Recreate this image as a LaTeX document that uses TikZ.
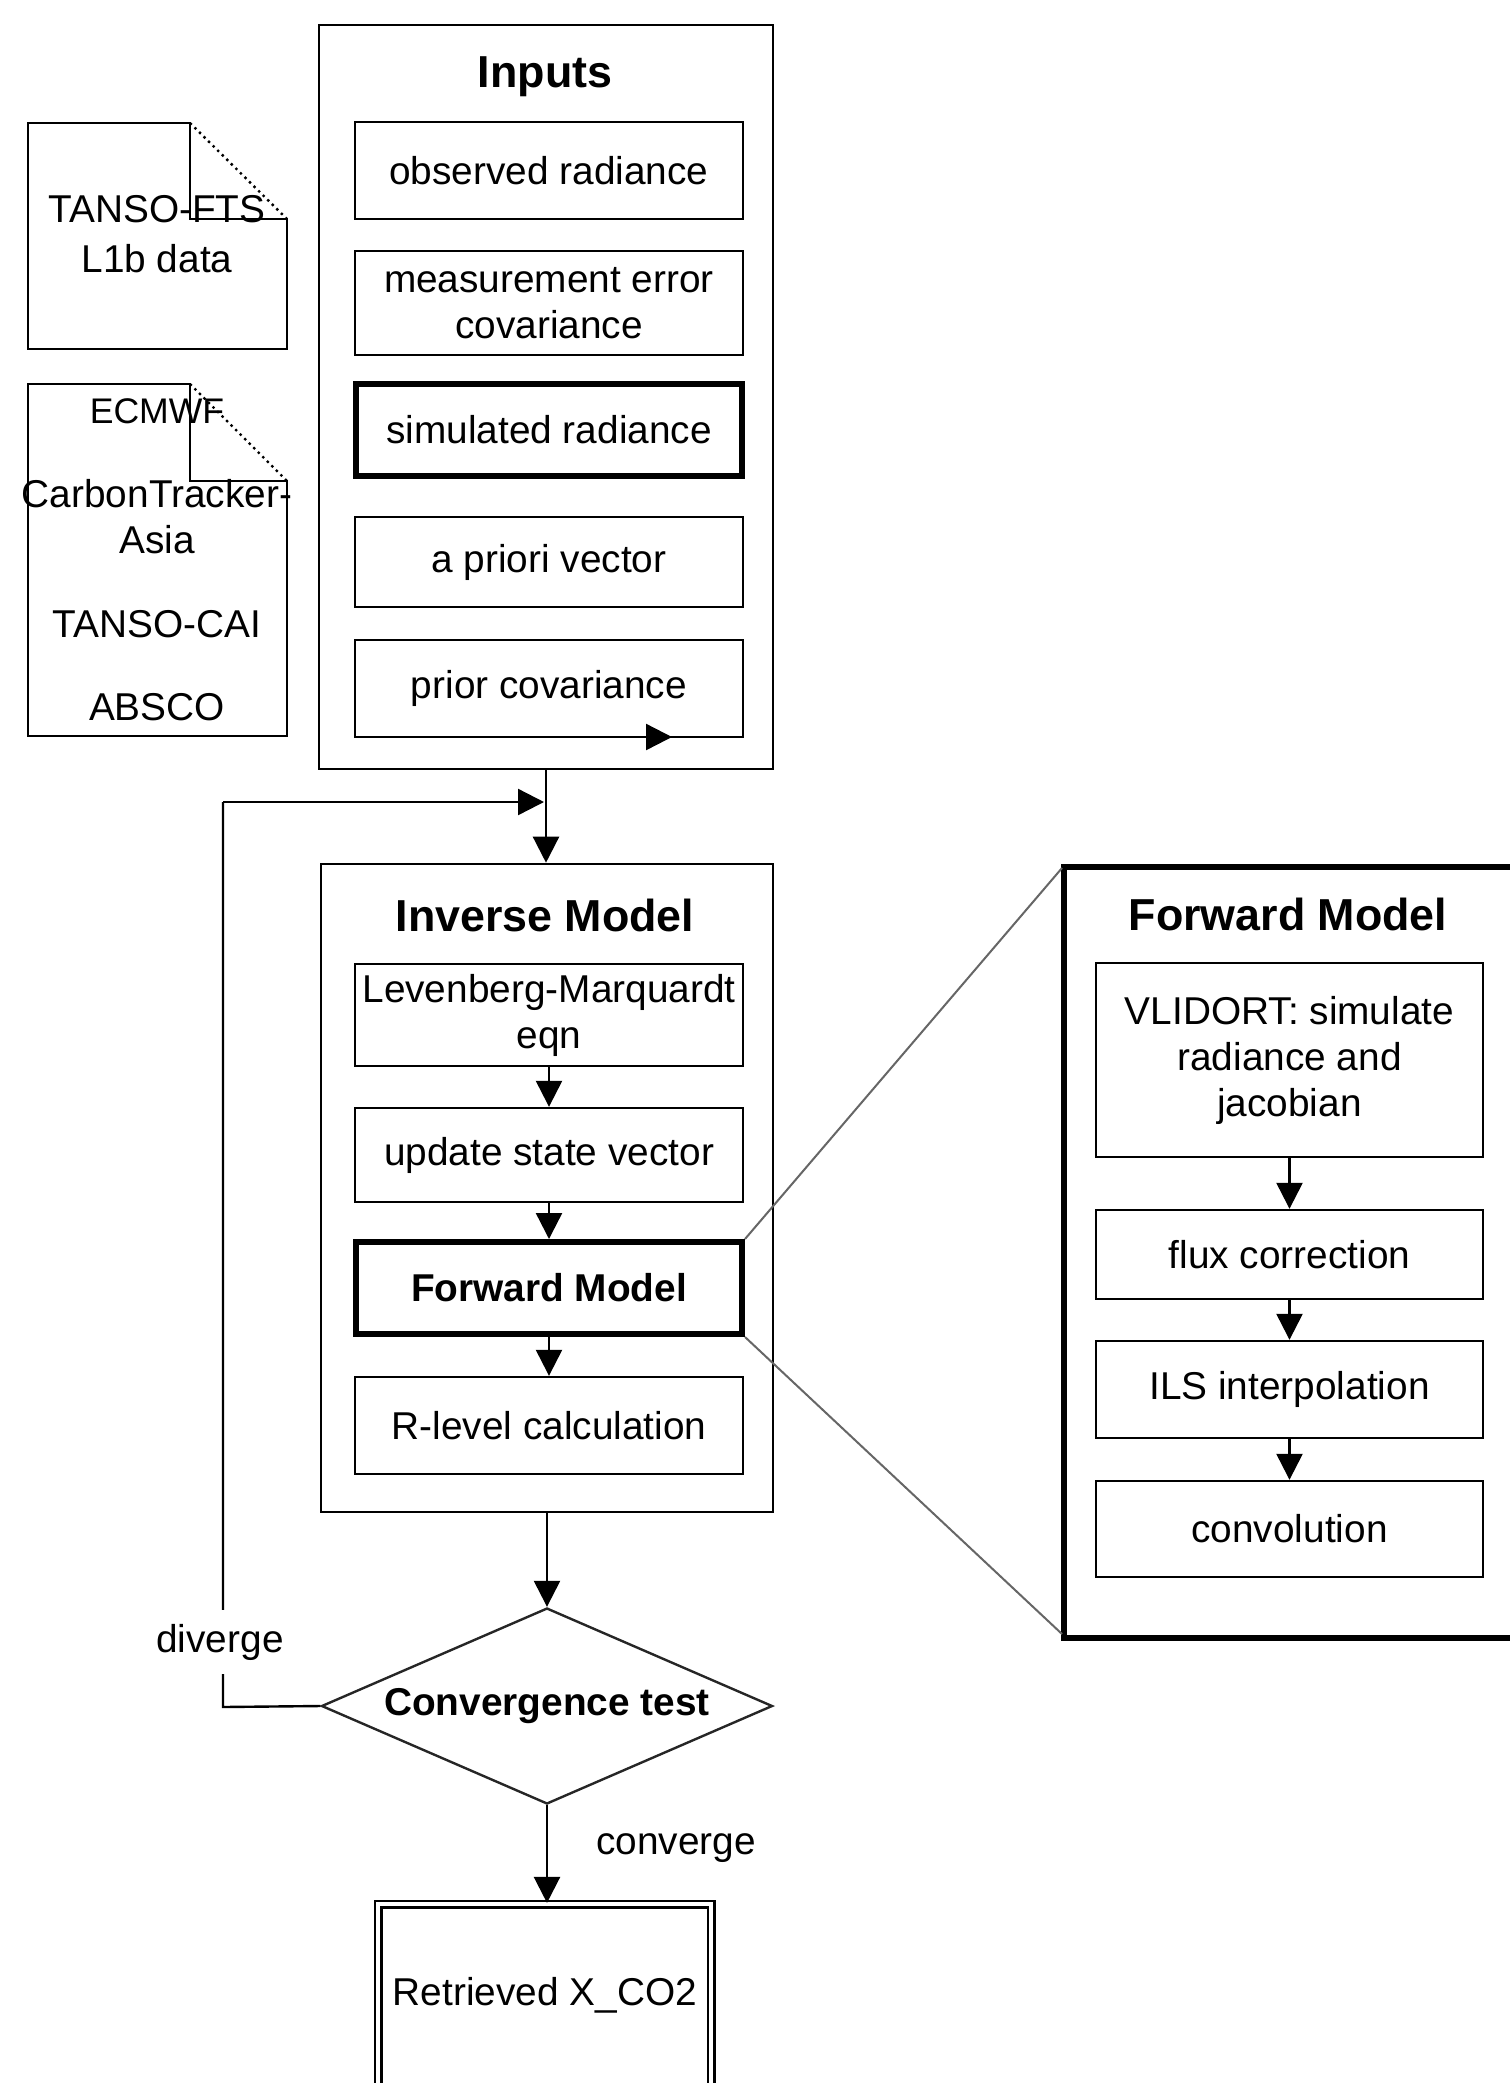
\documentclass[tikz,border=0pt]{standalone}
\usepackage{fontspec}
\setmainfont{Liberation Sans}
\usetikzlibrary{arrows.meta,fit,shapes.geometric}
\newcommand\nfs{\fontsize{19.4}{23}\selectfont}
\newcommand\sfs{\fontsize{17.8}{21}\selectfont}
\newcommand\tfs{\fontsize{22.4}{26}\selectfont\bfseries}
\tikzset{
  every node/.style={font=\nfs},
  box/.style={draw, line width=1.2pt, inner sep=0pt, align=center, minimum width=194pt},
  thickbox/.style={box, line width=3pt, minimum width=193pt},
  outerbox/.style={draw, line width=1.3pt, inner sep=0pt},
  fwdbox/.style={draw, line width=2.6pt, inner sep=0pt},
  ttl/.style={font=\tfs},
  arr/.style={-{Triangle[length=13pt,width=13pt]}, line width=1.2pt},
  plain/.style={line width=1.2pt},
  zoomline/.style={line width=1pt, draw=black!60},
  docline/.style={line width=1.2pt},
}
\begin{document}
\begin{tikzpicture}[x=0.5pt,y=-0.5pt]
\useasboundingbox (0,0) rectangle (1510,2083);

% ---------- documents ----------
\draw[docline] (190,123) -- (28,123) -- (28,349) -- (287,349) -- (287,219) -- (190,219) -- cycle;
\draw[docline, dotted] (190,123) -- (287,219);
\node[align=center] (doc1) at (157,234) {TANSO-FTS\\[2pt]L1b data};

\draw[docline] (190,384) -- (28,384) -- (28,736) -- (287,736) -- (287,481) -- (190,481) -- cycle;
\draw[docline, dotted] (190,384) -- (287,481);
\node[font=\sfs] (ecmwf) at (157,411) {ECMWF};
\node[align=center] (ctasia) at (157,517) {CarbonTracker-\\Asia};
\node (cai) at (157,624) {TANSO-CAI};
\node (absco) at (157,707) {ABSCO};

% ---------- Inputs ----------
\node[outerbox, fit={(319,25)(773,769)}] (inputs) {};
\node[ttl] (inputsT) at (545,77) {Inputs};
\node[box, minimum height=48.5pt] (obs) at (549,170.5) {observed radiance};
\node[box, minimum height=52pt] (meas) at (549,303) {measurement error\\covariance};
\node[thickbox, minimum height=46pt] (sim) at (549,430) {simulated radiance};
\node[box, minimum height=45pt] (apri) at (549,562) {a priori vector};
\node[box, minimum height=48.5pt] (pcov) at (549,688.5) {prior covariance};
\coordinate (stubA) at (640,737);
\coordinate (stubB) at (672,737);
\draw[arr] (stubA) -- (stubB);

% ---------- Inverse Model ----------
\node[outerbox, fit={(321,864)(773,1512)}] (inverse) {};
\node[ttl] (inverseT) at (545,915) {Inverse Model};
\node[box, minimum height=51pt] (lm) at (549,1015) {Levenberg-Marquardt\\eqn};
\node[box, minimum height=47pt] (upd) at (549,1155) {update state vector};
\node[thickbox, minimum height=46pt, font=\nfs\bfseries] (fm) at (549,1288) {Forward Model};
\node[box, minimum height=48.5pt] (rlev) at (549,1425.5) {R-level calculation};

\draw[arr] (inputs.south) -- (inputs.south |- inverse.north);
\draw[arr] (lm.south) -- (upd.north);
\draw[arr] (upd.south) -- (fm.north);
\draw[arr] (fm.south) -- (rlev.north);

% ---------- Forward Model (detail) ----------
\node[fwdbox, fit={(1064,867)(1540,1638)}] (fwd) {};
\node[ttl] (fwdT) at (1288,914) {Forward Model};
\node[box, minimum width=193.5pt, minimum height=97pt] (vlid) at (1289.5,1060) {VLIDORT: simulate\\radiance and\\jacobian};
\node[box, minimum width=193.5pt, minimum height=44.5pt] (flux) at (1289.5,1254.5) {flux correction};
\node[box, minimum width=193.5pt, minimum height=48.5pt] (ils) at (1289.5,1389.5) {ILS interpolation};
\node[box, minimum width=193.5pt, minimum height=48pt] (convo) at (1289.5,1529) {convolution};
\draw[arr] (vlid.south) -- (flux.north);
\draw[arr] (flux.south) -- (ils.north);
\draw[arr] (ils.south) -- (convo.north);

\coordinate (fwdNW) at (1062,868);
\coordinate (fwdSW) at (1062,1634);
\draw[zoomline] (fm.north east) -- (fwdNW);
\draw[zoomline] (fm.south east) -- (fwdSW);

% ---------- Convergence ----------
\node[diamond, draw=black!85, line width=1.2pt, minimum width=225.5pt, minimum height=98pt,
      inner sep=0pt, aspect=2.3, font=\nfs\bfseries] (ctest) at (547,1706) {Convergence test};
\draw[arr] (inverse.south) -- (inverse.south |- ctest.north);

\node[draw, line width=1.1pt, double, double distance=2.3pt, inner sep=0pt,
      fit={(378,1904)(711,2090)}] (ret) {};
\node (retT) at (545,1995) {Retrieved X\_CO2};
\draw[arr] (ctest.south) -- (ctest.south |- ret.north);
\node (convL) at (676,1848) {converge};

\coordinate (fbA) at (223,1707);
\coordinate (fbB) at (223,802);
\coordinate (fbC) at (544,802);
\draw[plain] (ctest.west) -- (fbA) -- (fbB);
\draw[arr] (fbB) -- (fbC);
\node[fill=white, inner xsep=2pt, inner ysep=7pt] (divL) at (220,1642) {diverge};
\end{tikzpicture}
\end{document}
